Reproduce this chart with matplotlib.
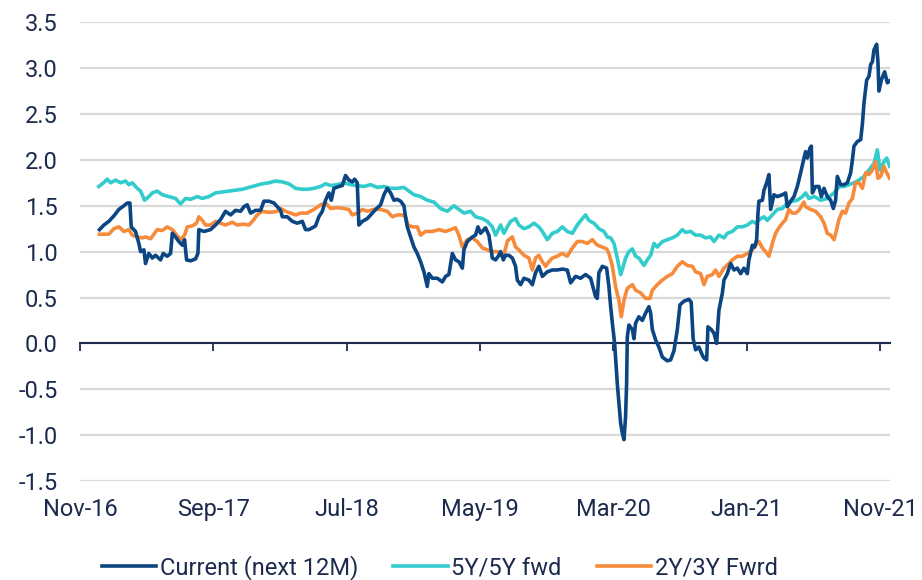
import matplotlib
matplotlib.use("Agg")
import matplotlib.pyplot as plt

plt.rcParams['font.family'] = ['Roboto', 'DejaVu Sans']

# x values are months since Nov-2016
cur_m = [1.46, 1.79, 2.16, 2.54, 2.91, 3.29, 3.54, 3.74, 3.84, 4.16, 4.41, 4.54, 4.79, 4.91, 5.16, 5.42, 5.66,
         6.04, 6.24, 6.54, 6.79, 6.92, 7.16, 7.41, 7.67, 7.84, 7.99, 8.29, 8.66, 8.84, 8.91, 9.29, 9.79, 10.16,
         10.54, 10.91, 11.29, 11.66, 12.04, 12.29, 12.54, 12.79, 13.16, 13.54, 13.79, 14.16, 14.54, 14.79, 15.04,
         15.17, 15.54, 15.92, 16.29, 16.67, 16.91, 17.16, 17.42, 17.66, 17.91, 18.17, 18.41, 18.66, 18.84, 19.04,
         19.41, 19.67, 19.91, 20.16, 20.42, 20.59, 20.79, 20.91, 21.17, 21.54, 21.92, 22.16, 22.54, 22.79, 23.04,
         23.29, 23.54, 23.79, 24.04, 24.29, 24.41, 24.54, 24.79, 25.04, 25.29, 25.54, 25.79, 26.04, 26.16, 26.42,
         26.79, 27.17, 27.41, 27.66, 27.92, 28.16, 28.41, 28.67, 28.79, 29.04, 29.42, 29.66, 29.84, 30.04, 30.41,
         30.66, 30.92, 31.16, 31.41, 31.54, 31.74, 31.91, 32.16, 32.42, 32.66, 32.79, 33.04, 33.29, 33.66, 33.92,
         34.16, 34.41, 34.67, 35.04, 35.42, 35.79, 36.17, 36.54, 36.79, 37.16, 37.54, 37.91, 38.29, 38.66, 38.79,
         38.91, 39.17, 39.49, 39.66, 39.79, 39.92, 40.09, 40.29, 40.41, 40.54, 40.67, 40.79, 40.91, 40.99, 41.04,
         41.16, 41.42, 41.54, 41.66, 41.91, 42.17, 42.41, 42.66, 42.79, 42.92, 43.16, 43.41, 43.67, 44.04, 44.29,
         44.54, 44.79, 44.99, 45.29, 45.66, 45.83, 45.98, 46.16, 46.41, 46.67, 46.79, 46.99, 47.09, 47.34, 47.54,
         47.74, 47.91, 48.17, 48.29, 48.54, 48.79, 49.04, 49.29, 49.54, 49.79, 50.04, 50.16, 50.42, 50.59, 50.74,
         50.84, 50.91, 51.17, 51.29, 51.49, 51.66, 51.79, 52.04, 52.29, 52.67, 52.91, 53.04, 53.29, 53.54, 53.79,
         54.04, 54.29, 54.41, 54.54, 54.74, 54.84, 54.92, 55.16, 55.41, 55.59, 55.79, 56.04, 56.29, 56.49, 56.66,
         56.79, 57.04, 57.29, 57.54, 57.79, 57.92, 58.04, 58.29, 58.54, 58.67, 58.79, 58.99, 59.16, 59.29, 59.42,
         59.54, 59.74, 59.84, 59.91, 60.09, 60.34, 60.54, 60.71]
current = [1.24, 1.29, 1.33, 1.39, 1.46, 1.50, 1.53, 1.53, 1.27, 1.22, 1.09, 1.00, 1.02, 0.87, 0.98, 0.93, 0.96,
           0.91, 0.98, 0.95, 0.98, 1.20, 1.16, 1.11, 1.07, 1.13, 0.91, 0.90, 0.92, 0.98, 1.24, 1.22, 1.24, 1.29,
           1.35, 1.44, 1.40, 1.45, 1.44, 1.49, 1.51, 1.42, 1.45, 1.45, 1.55, 1.55, 1.53, 1.49, 1.45,
           1.38, 1.38, 1.33, 1.31, 1.33, 1.24, 1.24, 1.26, 1.28, 1.38, 1.44, 1.56, 1.64, 1.56, 1.69,
           1.71, 1.72, 1.83, 1.78, 1.76, 1.79, 1.75, 1.29, 1.33, 1.36, 1.42, 1.46, 1.51, 1.62, 1.69,
           1.64, 1.56, 1.57, 1.55, 1.50, 1.38, 1.27, 1.16, 1.05, 0.98, 0.89, 0.78, 0.62, 0.76, 0.71,
           0.71, 0.67, 0.73, 0.75, 0.98, 0.91, 0.89, 0.82, 1.02, 1.11, 1.16, 1.18, 1.27, 1.20, 1.26,
           1.18, 0.93, 0.91, 0.96, 1.00, 0.91, 0.96, 0.96, 0.93, 0.84, 0.69, 0.64, 0.71, 0.69, 0.64,
           0.77, 0.84, 0.73, 0.78, 0.80, 0.80, 0.81, 0.80, 0.66, 0.73, 0.71, 0.75, 0.71, 0.51, 0.49,
           0.77, 0.84, 0.82, 0.62, 0.40, 0.22, 0.00, -0.44, -0.65, -0.87, -0.98, -1.05, -0.80, -0.43, 0.07,
           0.20, 0.15, 0.05, 0.22, 0.29, 0.25, 0.33, 0.40, 0.33, 0.15, 0.04, -0.04, -0.15, -0.19, -0.18,
           -0.08, 0.15, 0.42, 0.46, 0.48, 0.45, 0.05, -0.07, -0.04, -0.13, -0.16, -0.18, 0.18, 0.15, 0.11,
           0.00, 0.36, 0.55, 0.69, 0.76, 0.87, 0.80, 0.82, 0.76, 0.82, 0.76, 0.91, 1.07, 1.05, 1.13,
           1.42, 1.55, 1.56, 1.67, 1.75, 1.84, 1.46, 1.62, 1.60, 1.62, 1.64, 1.49, 1.55, 1.60, 1.71,
           1.86, 2.02, 2.09, 2.02, 2.13, 2.15, 1.64, 1.71, 1.71, 1.60, 1.69, 1.60, 1.56, 1.47, 1.56,
           1.82, 1.73, 1.73, 1.75, 1.86, 2.00, 2.15, 2.20, 2.22, 2.39, 2.62, 2.87, 2.91, 3.04, 3.07,
           3.20, 3.26, 3.06, 2.75, 2.87, 2.96, 2.84, 2.86]

fwd55_m = [1.41, 1.76, 2.04, 2.29, 2.66, 3.04, 3.41, 3.66, 3.92, 4.29, 4.54, 4.84, 5.16, 5.42, 5.79, 6.17, 6.66,
           7.16, 7.54, 7.91, 8.29, 8.79, 9.17, 9.66, 10.16, 10.67, 11.16, 11.66, 12.17, 12.66, 13.16, 13.67,
           14.16, 14.66, 15.17, 15.66, 16.16, 16.67, 17.04, 17.54, 18.04, 18.41, 18.79, 19.29, 19.79, 20.29,
           20.79, 21.29, 21.79, 22.29, 22.79, 23.29, 23.79, 24.29, 24.66, 25.04, 25.54, 26.04, 26.54, 27.04,
           27.54, 28.04, 28.41, 28.79, 29.29, 29.66, 30.17, 30.54, 30.92, 31.16, 31.54, 31.79, 32.04, 32.29,
           32.66, 32.91, 33.29, 33.66, 34.04, 34.41, 34.67, 35.04, 35.42, 35.79, 36.17, 36.54, 36.92, 37.29,
           37.67, 37.91, 38.16, 38.54, 38.91, 39.29, 39.54, 39.79, 40.04, 40.29, 40.54, 40.74, 40.91, 41.16,
           41.42, 41.66, 41.91, 42.29, 42.54, 42.79, 43.04, 43.29, 43.67, 44.04, 44.42, 44.79, 45.17, 45.41,
           45.79, 46.16, 46.54, 46.91, 47.29, 47.54, 47.91, 48.29, 48.54, 48.92, 49.29, 49.67, 50.04, 50.42,
           50.66, 51.04, 51.29, 51.54, 51.92, 52.29, 52.67, 53.04, 53.42, 53.79, 54.17, 54.41, 54.66, 55.07,
           55.54, 56.04, 56.54, 56.95, 57.29, 57.66, 58.04, 58.41, 58.79, 59.16, 59.54, 59.79, 59.99, 60.29,
           60.49, 60.71]
fwd55 = [1.71, 1.75, 1.79, 1.75, 1.78, 1.75, 1.77, 1.73, 1.75, 1.69, 1.66, 1.56, 1.60, 1.64, 1.66, 1.62, 1.60,
         1.58, 1.52, 1.58, 1.57, 1.60, 1.58, 1.60, 1.64, 1.65, 1.66, 1.67, 1.68, 1.70, 1.72, 1.74,
         1.75, 1.77, 1.76, 1.74, 1.69, 1.68, 1.68, 1.69, 1.71, 1.74, 1.72, 1.73, 1.75, 1.73,
         1.72, 1.71, 1.73, 1.70, 1.71, 1.69, 1.69, 1.70, 1.66, 1.62, 1.60, 1.56, 1.54, 1.47,
         1.44, 1.50, 1.46, 1.42, 1.44, 1.38, 1.36, 1.33, 1.27, 1.18, 1.29, 1.20, 1.27, 1.33,
         1.36, 1.29, 1.25, 1.27, 1.31, 1.27, 1.22, 1.13, 1.20, 1.22, 1.27, 1.22, 1.20, 1.29,
         1.36, 1.40, 1.34, 1.31, 1.25, 1.22, 1.16, 1.15, 1.09, 0.93, 0.75, 0.84, 0.93, 1.00,
         1.03, 0.95, 0.93, 0.85, 0.91, 0.96, 1.09, 1.05, 1.11, 1.13, 1.15, 1.18, 1.24, 1.21,
         1.22, 1.18, 1.18, 1.15, 1.16, 1.11, 1.18, 1.15, 1.20, 1.22, 1.27, 1.27, 1.29, 1.33,
         1.31, 1.36, 1.38, 1.34, 1.40, 1.46, 1.47, 1.53, 1.55, 1.56, 1.60, 1.64, 1.58, 1.60,
         1.56, 1.58, 1.64, 1.71, 1.71, 1.73, 1.75, 1.78, 1.82, 1.89, 1.96, 2.11, 1.89, 1.98,
         2.02, 1.93]

fwd23_m = [1.46, 2.16, 2.54, 2.91, 3.29, 3.66, 3.92, 4.29, 4.67, 4.91, 5.29, 5.54, 5.79, 6.17, 6.54, 6.92, 7.24,
           7.54, 7.84, 8.04, 8.42, 8.74, 8.91, 9.17, 9.41, 9.79, 10.16, 10.54, 10.91, 11.42, 11.79, 12.29,
           12.66, 13.04, 13.29, 13.67, 14.04, 14.42, 14.79, 15.04, 15.41, 15.79, 16.16, 16.54, 17.04, 17.54,
           18.04, 18.41, 18.79, 19.29, 19.79, 20.16, 20.42, 20.79, 21.17, 21.54, 22.04, 22.54, 23.04, 23.42,
           23.79, 24.17, 24.41, 24.59, 24.92, 25.29, 25.54, 25.91, 26.42, 26.91, 27.41, 27.79, 28.16, 28.41,
           28.67, 29.04, 29.42, 29.79, 30.17, 30.54, 30.92, 31.29, 31.54, 31.79, 32.06, 32.42, 32.66, 32.91,
           33.29, 33.66, 33.92, 34.16, 34.41, 34.67, 34.91, 35.16, 35.42, 35.79, 36.17, 36.54, 36.92, 37.29,
           37.67, 38.04, 38.42, 38.79, 39.17, 39.49, 39.66, 39.92, 40.16, 40.41, 40.59, 40.79, 41.04, 41.42,
           41.66, 42.04, 42.41, 42.74, 42.92, 43.29, 43.67, 44.04, 44.42, 44.79, 45.17, 45.54, 45.92, 46.16,
           46.54, 46.79, 47.04, 47.42, 47.66, 47.91, 48.29, 48.66, 48.92, 49.29, 49.67, 50.04, 50.42, 50.66,
           50.91, 51.17, 51.41, 51.66, 51.92, 52.16, 52.41, 52.67, 52.91, 53.16, 53.42, 53.66, 53.91, 54.28,
           54.41, 54.79, 55.16, 55.54, 55.79, 56.04, 56.29, 56.54, 56.74, 56.91, 57.17, 57.41, 57.66, 57.92,
           58.16, 58.41, 58.67, 58.91, 59.16, 59.42, 59.66, 59.84, 60.04, 60.29, 60.49, 60.71]
fwd23 = [1.19, 1.19, 1.25, 1.27, 1.22, 1.24, 1.18, 1.16, 1.15, 1.16, 1.14, 1.19, 1.24, 1.23, 1.27, 1.24, 1.18,
         1.13, 1.18, 1.27, 1.28, 1.31, 1.38, 1.34, 1.29, 1.29, 1.33, 1.31, 1.29, 1.32, 1.29, 1.30,
         1.29, 1.35, 1.40, 1.44, 1.43, 1.43, 1.44, 1.47, 1.44, 1.42, 1.40, 1.42, 1.42, 1.46,
         1.51, 1.53, 1.47, 1.48, 1.47, 1.46, 1.40, 1.42, 1.46, 1.44, 1.46, 1.46, 1.44, 1.38,
         1.40, 1.40, 1.38, 1.29, 1.27, 1.27, 1.18, 1.22, 1.22, 1.24, 1.22, 1.24, 1.26, 1.18,
         1.05, 1.13, 1.15, 1.11, 1.04, 1.02, 1.00, 1.00, 0.98, 0.97, 1.12, 1.16, 1.05, 1.02,
         0.96, 0.93, 0.80, 0.93, 0.96, 0.89, 0.84, 0.89, 0.93, 0.95, 0.98, 0.95, 1.04, 1.11,
         1.11, 1.09, 1.13, 1.07, 1.05, 1.03, 0.98, 0.84, 0.62, 0.47, 0.29, 0.47, 0.60, 0.64,
         0.58, 0.55, 0.49, 0.49, 0.58, 0.64, 0.69, 0.73, 0.76, 0.84, 0.89, 0.85, 0.84, 0.78,
         0.76, 0.64, 0.73, 0.75, 0.80, 0.73, 0.82, 0.87, 0.91, 0.95, 0.95, 0.98, 1.02, 1.07,
         1.11, 1.04, 1.00, 0.95, 1.09, 1.20, 1.26, 1.31, 1.35, 1.46, 1.42, 1.42, 1.45, 1.54,
         1.49, 1.46, 1.44, 1.38, 1.31, 1.20, 1.18, 1.13, 1.24, 1.35, 1.44, 1.42, 1.53, 1.58,
         1.75, 1.75, 1.69, 1.86, 1.84, 1.89, 1.98, 1.80, 1.82, 1.93, 1.86, 1.80]

tick_pos = [0, 10, 20, 30, 40, 50, 60]
tick_lbl = ['Nov-16', 'Sep-17', 'Jul-18', 'May-19', 'Mar-20', 'Jan-21', 'Nov-21']
y_ticks = [3.5, 3.0, 2.5, 2.0, 1.5, 1.0, 0.5, 0.0, -0.5, -1.0, -1.5]

navy = '#0b4582'
cyan = '#33cccc'
orange = '#f68b3c'
txt = '#1c2a4e'
fs = 17

fig = plt.figure(figsize=(9.22, 5.8), dpi=100)
ax = fig.add_axes([0.0868, 0.1707, 0.8782, 0.7909])

ax.plot(cur_m, current, color=navy, lw=2.6, label='Current (next 12M)', zorder=3)
ax.plot(fwd55_m, fwd55, color=cyan, lw=2.6, label='5Y/5Y fwd', zorder=2)
ax.plot(fwd23_m, fwd23, color=orange, lw=2.6, label='2Y/3Y Fwrd', zorder=2.5)

ax.set_xlim(0, 60.72)
ax.set_ylim(-1.5, 3.5)
ax.set_yticks(y_ticks)
ax.set_yticklabels(['%.1f' % v for v in y_ticks])
ax.yaxis.grid(True, color='#d9d9d9', lw=1.6)
ax.set_axisbelow(True)
for s in ['top', 'right', 'left']:
    ax.spines[s].set_visible(False)
ax.spines['bottom'].set_position(('data', 0))
ax.spines['bottom'].set_color(txt)
ax.spines['bottom'].set_linewidth(1.5)
ax.spines['bottom'].set_zorder(1.5)
ax.set_xticks(tick_pos)
ax.tick_params(axis='x', length=6, width=1.3, color=txt, labelbottom=False)
ax.tick_params(axis='y', length=0, pad=16, labelsize=fs, labelcolor=txt)

sec = ax.secondary_xaxis(0)
sec.set_xticks(tick_pos, tick_lbl)
sec.spines['bottom'].set_visible(False)
sec.tick_params(length=0, pad=12, labelsize=fs, labelcolor=txt)

fig.legend(loc='center', bbox_to_anchor=(0.477, 0.021), ncol=3, frameon=False, fontsize=fs,
           handlelength=2.3, handletextpad=0.15, columnspacing=1.5, labelcolor=txt)

fig.savefig('out.png', dpi=100)
